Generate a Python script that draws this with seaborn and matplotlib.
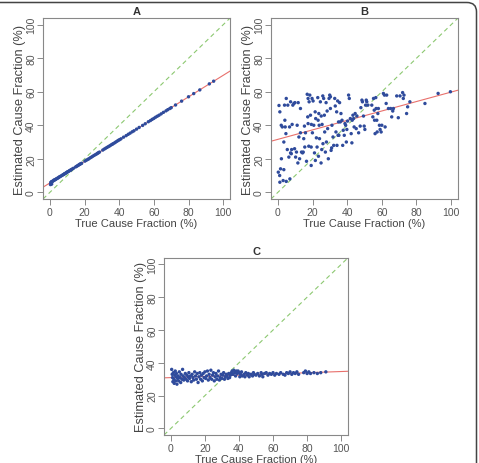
import numpy as np
import pandas as pd
import matplotlib
matplotlib.use("Agg")
import matplotlib.pyplot as plt
from matplotlib.patches import FancyBboxPatch
import seaborn as sns

# panel A: estimates sit almost on a line
a_true = [0.3, 0.5, 0.6, 0.8, 1.0, 1.0, 1.2, 1.5, 2.0, 2.3, 2.8, 3.1, 3.5, 4.0, 4.4, 5.0,
          5.3, 5.9, 6.4, 7.0, 7.5, 8.0, 8.3, 8.8, 9.2, 9.6, 10.0, 10.4, 10.9, 11.3, 11.8,
          12.2, 12.7, 13.5, 14.8, 15.4, 16.0, 16.5, 17.0, 17.4, 17.9, 18.3, 20.2, 21.0,
          21.8, 22.5, 23.3, 24.0, 24.7, 25.5, 26.3, 27.0, 27.5, 28.0, 28.6, 30.5, 31.4,
          32.2, 33.0, 33.8, 34.5, 35.2, 35.9, 36.5, 37.3, 38.0, 38.8, 39.5, 40.2, 41.0,
          42.5, 44.0, 45.2, 46.3, 47.5, 48.5, 50.0, 51.5, 53.5, 55.0, 56.8, 58.0, 59.0,
          60.0, 61.0, 62.0, 63.0, 64.2, 65.5, 67.0, 68.0, 69.2, 70.0, 72.5, 76.0, 80.0,
          83.0, 86.5, 92.0, 94.5]
a_est = [4.6, 5.9, 5.0, 6.1, 6.2, 4.9, 6.4, 6.6, 6.9, 7.3, 7.4, 7.6, 7.9, 8.2, 8.4, 8.8,
         9.1, 9.4, 9.7, 10.1, 10.4, 10.7, 11.0, 11.2, 11.5, 11.8, 12.1, 12.3, 12.6, 12.9,
         13.2, 13.4, 13.8, 14.3, 15.1, 15.5, 15.9, 16.2, 16.6, 16.8, 17.1, 17.3, 18.6,
         19.1, 19.6, 20.0, 20.6, 21.0, 21.5, 22.0, 22.5, 22.9, 23.3, 23.6, 24.0, 25.2,
         25.8, 26.3, 26.8, 27.3, 27.7, 28.2, 28.6, 29.0, 29.5, 30.0, 30.5, 31.0, 31.4,
         31.9, 32.9, 33.8, 34.6, 35.3, 36.1, 36.7, 37.7, 38.7, 39.9, 40.9, 42.1, 42.8,
         43.5, 44.1, 44.8, 45.4, 46.0, 46.8, 47.7, 48.6, 49.3, 50.0, 50.5, 52.1, 54.4,
         57.0, 58.9, 61.1, 64.7, 66.3]

# panel B: wide scatter
b_true = [0.6, 1.1, 0.2, 1.0, 1.1, 1.5, 1.9, 2.5, 2.0, 3.0, 3.4, 3.4, 3.8, 4.0, 4.2, 4.8,
          4.6, 4.8, 5.4, 5.7, 6.3, 6.7, 6.9, 7.3, 7.3, 7.7, 7.9, 8.2, 8.6, 9.2, 9.6, 9.8,
          10.2, 10.7, 11.1, 11.5, 11.7, 12.1, 12.5, 13.0, 13.0, 13.6, 14.2, 14.6, 14.9,
          15.3, 15.5, 15.9, 16.5, 16.9, 17.2, 17.4, 17.4, 17.8, 18.0, 18.4, 18.8, 19.2,
          19.2, 19.3, 19.7, 19.9, 20.3, 20.7, 21.1, 21.5, 21.6, 21.8, 22.2, 22.6, 23.0,
          23.2, 23.4, 23.6, 23.8, 24.0, 24.5, 24.9, 25.0, 25.3, 25.5, 25.9, 26.0, 26.4,
          26.8, 27.0, 27.4, 27.8, 28.0, 28.4, 28.7, 29.1, 29.5, 29.9, 30.3, 30.3, 30.7,
          31.0, 31.2, 31.8, 32.2, 32.8, 33.1, 33.5, 33.9, 34.1, 34.5, 34.7, 35.0, 35.2,
          35.6, 36.0, 36.4, 37.0, 37.4, 37.7, 38.3, 38.7, 39.1, 39.5, 39.8, 40.2, 40.8,
          41.2, 41.8, 42.3, 42.7, 42.9, 43.3, 43.7, 44.0, 44.6, 45.2, 45.6, 46.6, 47.5,
          47.9, 48.5, 48.8, 49.4, 49.8, 50.2, 50.6, 51.0, 51.3, 51.9, 54.2, 54.8, 55.2,
          55.6, 55.8, 56.1, 56.5, 56.7, 57.1, 57.3, 57.7, 58.0, 58.6, 59.0, 59.6, 60.0,
          60.9, 61.5, 61.9, 62.5, 62.8, 63.8, 65.1, 65.7, 66.3, 66.7, 68.6, 69.5, 70.5,
          72.0, 72.4, 72.8, 74.3, 74.9, 76.2, 84.9, 92.5, 99.6]
b_est = [51.8, 48.0, 12.0, 10.0, 6.0, 14.0, 40.0, 39.0, 20.0, 7.0, 13.5, 30.0, 52.0, 43.0,
         39.0, 56.0, 35.0, 6.5, 25.5, 52.0, 21.0, 39.0, 8.0, 54.0, 23.5, 23.0, 25.5, 40.5,
         52.0, 53.0, 26.0, 53.5, 21.0, 24.0, 40.0, 17.5, 53.5, 33.0, 20.0, 35.5, 50.0,
         24.0, 23.5, 24.0, 32.0, 39.5, 27.0, 35.5, 18.5, 58.5, 45.0, 56.0, 41.0, 27.5,
         54.0, 58.0, 46.0, 27.0, 16.0, 40.5, 56.0, 35.5, 54.5, 40.0, 23.5, 48.0, 19.0,
         44.0, 32.5, 27.0, 56.5, 43.0, 21.5, 47.0, 40.0, 32.0, 54.0, 17.5, 45.5, 25.5,
         40.5, 57.5, 29.0, 56.0, 46.0, 36.0, 24.0, 53.5, 30.0, 48.5, 38.0, 20.0, 56.0,
         58.0, 50.0, 57.0, 25.0, 26.5, 40.0, 33.0, 28.0, 56.0, 51.5, 36.0, 48.0, 28.0,
         54.5, 34.0, 42.0, 34.0, 53.5, 42.0, 47.0, 43.0, 28.0, 37.0, 34.0, 41.0, 40.0,
         30.0, 37.5, 42.5, 58.0, 56.0, 44.0, 35.0, 29.5, 43.0, 46.0, 44.0, 39.0, 47.0,
         38.0, 45.5, 35.5, 39.5, 50.5, 55.0, 54.0, 45.5, 39.5, 37.5, 52.0, 55.0, 54.0,
         52.0, 52.0, 45.0, 56.0, 49.0, 43.0, 35.0, 56.5, 50.0, 43.0, 36.0, 47.0, 50.0,
         40.0, 37.5, 36.0, 40.0, 59.0, 58.0, 39.0, 53.0, 58.0, 50.0, 50.0, 45.0, 48.5,
         50.0, 57.5, 44.5, 57.5, 59.5, 56.0, 58.0, 47.0, 51.0, 54.0, 53.0, 59.0, 60.0]

# panel C: flat band around 30-35
c_true = [0.5, 0.8, 1.0, 1.2, 1.5, 1.8, 2.0, 2.3, 2.6, 2.8, 3.0, 3.3, 3.6, 4.0, 4.3, 4.6,
          5.0, 5.4, 5.8, 6.0, 6.5, 6.9, 7.2, 7.6, 8.0, 8.5, 9.0, 9.4, 9.8, 10.2, 10.6,
          11.0, 11.5, 12.0, 12.5, 13.0, 13.4, 14.0, 14.5, 15.0, 15.5, 16.0, 16.5, 17.0,
          17.5, 18.0, 18.5, 19.0, 19.5, 20.0, 20.5, 21.0, 21.5, 22.0, 22.5, 23.0, 23.5,
          24.0, 24.5, 25.0, 25.5, 26.0, 26.5, 27.0, 27.5, 28.0, 28.5, 29.0, 29.5, 30.0,
          30.5, 31.0, 31.5, 32.0, 32.5, 33.0, 33.5, 34.0, 34.5, 35.0, 35.5, 36.0, 36.5,
          37.0, 37.5, 38.0, 38.5, 39.0, 39.5, 40.0, 40.5, 41.0, 41.5, 42.0, 43.0, 43.5,
          44.0, 45.0, 45.5, 46.0, 47.0, 48.0, 48.5, 49.0, 50.0, 51.0, 52.0, 53.0, 53.5,
          54.0, 55.0, 56.0, 57.0, 58.0, 59.0, 60.0, 61.0, 62.0, 63.5, 64.5, 66.0, 67.0,
          68.0, 69.0, 70.0, 71.0, 72.0, 73.0, 74.0, 75.0, 78.0, 79.0, 80.0, 81.0, 82.0,
          84.0, 86.0, 88.0, 91.0]
c_est = [36.0, 33.0, 31.0, 28.5, 34.0, 30.0, 27.5, 32.5, 35.0, 29.0, 31.5, 33.5, 27.0,
         30.5, 32.0, 29.0, 34.5, 31.0, 28.0, 33.0, 30.0, 36.0, 32.0, 29.5, 31.0, 33.5,
         30.0, 32.5, 29.0, 31.5, 34.0, 30.5, 32.0, 28.5, 33.0, 31.0, 29.5, 34.5, 32.0,
         30.0, 33.5, 28.0, 31.5, 34.0, 30.0, 32.5, 29.0, 33.5, 31.0, 34.5, 30.5, 32.0,
         35.0, 29.5, 33.0, 31.0, 35.5, 30.0, 32.5, 34.0, 29.0, 31.5, 33.5, 30.0, 32.0,
         35.0, 29.5, 31.0, 33.0, 30.5, 32.5, 34.0, 30.0, 31.5, 33.0, 32.0, 30.5, 33.5,
         31.0, 32.5, 34.0, 35.0, 33.0, 35.5, 34.0, 32.0, 35.0, 33.5, 35.0, 34.0, 31.5,
         33.0, 34.5, 32.0, 33.0, 31.5, 34.0, 32.5, 33.5, 31.5, 33.0, 32.0, 34.0, 33.0,
         32.5, 33.5, 32.0, 34.0, 33.0, 31.5, 33.5, 34.0, 32.5, 33.5, 33.0, 34.0, 32.5,
         33.5, 33.0, 34.0, 33.0, 32.5, 34.0, 33.5, 34.5, 33.0, 34.0, 33.5, 34.5, 33.0,
         34.0, 35.0, 33.5, 34.5, 33.5, 34.0, 33.5, 34.0, 34.5]

# fitted lines (intercept, slope)
fit_a = (5.6, 0.642)
fit_b = (31.6, 0.282)
fit_c = (31.0, 0.037)

panels = ["A", "B", "C"]
ticks = [0, 20, 40, 60, 80, 100]

sns.set_style("white")
plt.rcParams['font.family'] = ['Liberation Sans', 'DejaVu Sans']

fig = plt.figure(figsize=(4.79, 4.64), dpi=100)
boxes = [
    [0.0898, 0.569, 0.3906, 0.390],
    [0.5658, 0.569, 0.3904, 0.390],
    [0.3424, 0.0603, 0.3841, 0.3819],
]
data = [(a_true, a_est, fit_a), (b_true, b_est, fit_b), (c_true, c_est, fit_c)]

for name, box, (xs, ys, fit) in zip(panels, boxes, data):
    ax = fig.add_axes(box)
    df = pd.DataFrame({"true": xs, "est": ys})
    ax.axline((0, 0), slope=1, color="#8cc870", lw=0.8, ls=(0, (4, 3)), zorder=1)
    ax.axline((0, fit[0]), slope=fit[1], color="#e8706c", lw=0.8, zorder=2)
    sns.scatterplot(data=df, x="true", y="est", ax=ax, s=6, color="#2f4b9c",
                    edgecolor="none", linewidth=0, zorder=3)
    ax.set_xlim(-4, 104)
    ax.set_ylim(-4, 104)
    ax.set_xticks(ticks)
    ax.set_yticks(ticks)
    ax.set_yticklabels([str(t) for t in ticks], rotation=90, va="center")
    ax.tick_params(axis="both", direction="out", length=4, width=0.6, color="#777777",
                   labelsize=7.5, labelcolor="#555555", pad=2, bottom=True, left=True)
    ax.tick_params(axis="y", pad=1)
    ax.set_xlabel("True Cause Fraction (%)", fontsize=8, color="#444444", labelpad=0.5)
    ax.set_ylabel("Estimated Cause Fraction (%)", fontsize=9.2, color="#444444", labelpad=0)
    ax.set_title(name, fontsize=8, fontweight="bold", color="#333333", pad=3)
    for sp in ax.spines.values():
        sp.set_color("#888888")
        sp.set_linewidth(0.8)

# outer rounded frame (only top and right edges fall inside the image)
frame = FancyBboxPatch((-0.05, -0.05), 0.05 + 476.5 / 479, 0.05 + 1 - 3.5 / 464,
                       boxstyle="round,pad=0,rounding_size=0.02",
                       transform=fig.transFigure, fill=False, edgecolor="#444444",
                       linewidth=1.1, clip_on=False)
fig.patches.append(frame)

fig.savefig("out.png", dpi=100)
